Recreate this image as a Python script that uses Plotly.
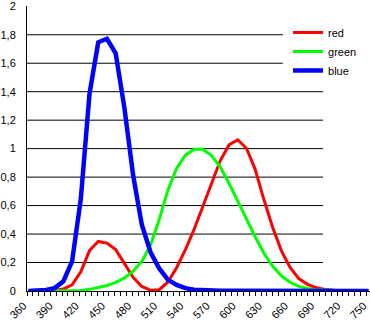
import plotly.graph_objects as go

wavelengths = list(range(360, 760, 10))

red = [0.0001, 0.0004, 0.0014, 0.0042, 0.0143, 0.0435, 0.1344, 0.2839, 0.3483, 0.3362,
       0.2908, 0.1954, 0.0956, 0.0320, 0.0049, 0.0093, 0.0633, 0.1655, 0.2904, 0.4334,
       0.5945, 0.7621, 0.9163, 1.0263, 1.0622, 1.0026, 0.8544, 0.6424, 0.4479, 0.2835,
       0.1649, 0.0874, 0.0468, 0.0227, 0.0114, 0.0058, 0.0029, 0.0014, 0.0007, 0.0003]

green = [0.0000, 0.0000, 0.0000, 0.0001, 0.0004, 0.0012, 0.0040, 0.0116, 0.0230, 0.0380,
         0.0600, 0.0910, 0.1390, 0.2080, 0.3230, 0.5030, 0.7100, 0.8620, 0.9540, 0.9950,
         0.9950, 0.9520, 0.8700, 0.7570, 0.6310, 0.5030, 0.3810, 0.2650, 0.1750, 0.1070,
         0.0610, 0.0320, 0.0170, 0.0082, 0.0041, 0.0021, 0.0010, 0.0005, 0.0002, 0.0001]

blue = [0.0006, 0.0019, 0.0065, 0.0201, 0.0679, 0.2074, 0.6456, 1.3856, 1.7471, 1.7721,
        1.6692, 1.2876, 0.8130, 0.4652, 0.2720, 0.1582, 0.0783, 0.0422, 0.0203, 0.0088,
        0.0039, 0.0021, 0.0017, 0.0011, 0.0008, 0.0003, 0.0002, 0.0000, 0.0000, 0.0000,
        0.0000, 0.0000, 0.0000, 0.0000, 0.0000, 0.0000, 0.0000, 0.0000, 0.0000, 0.0000]

series_names = ["red", "green", "blue"]
x_tick_values = list(range(360, 760, 30))
y_tick_values = [0, 0.2, 0.4, 0.6, 0.8, 1.0, 1.2, 1.4, 1.6, 1.8, 2.0]
grid_values = [0.2, 0.4, 0.6, 0.8, 1.0, 1.2, 1.4, 1.6, 1.8]

FONT = "Liberation Sans, Arial, sans-serif"

fig = go.Figure()
fig.add_trace(go.Scatter(x=wavelengths, y=red, name=series_names[0], mode="lines",
                         line=dict(color="#FF0000", width=3)))
fig.add_trace(go.Scatter(x=wavelengths, y=green, name=series_names[1], mode="lines",
                         line=dict(color="#00FF00", width=3)))
fig.add_trace(go.Scatter(x=wavelengths, y=blue, name=series_names[2], mode="lines",
                         line=dict(color="#0000FF", width=4.5)))

# horizontal gridlines (shorter ones next to the legend)
for v in grid_values:
    fig.add_shape(type="line", xref="paper", yref="y", x0=0,
                  x1=0.746 if v > 1.5 else 0.863, y0=v, y1=v,
                  line=dict(color="black", width=1), layer="below")

fig.update_layout(
    width=370, height=327,
    margin=dict(l=27, r=0, t=6, b=35.5),
    paper_bgcolor="white", plot_bgcolor="white",
    separators=", ",
    font=dict(family=FONT, size=11, color="black"),
    showlegend=True,
    legend=dict(x=0.761, y=0.958, xanchor="left", yanchor="top",
                bgcolor="rgba(0,0,0,0)", borderwidth=0,
                font=dict(family=FONT, size=11, color="black")),
    xaxis=dict(range=[358.3, 751.7], tickmode="array", tickvals=x_tick_values,
               tickangle=-45, ticks="", showgrid=False, zeroline=False,
               showline=True, linecolor="black", linewidth=1,
               layer="below traces", ticklabelshift=-5, ticklabelstandoff=3,
               tickfont=dict(family=FONT, size=11, color="black"),
               minor=dict(ticks="outside", ticklen=4, tickcolor="black",
                          tickwidth=1, tick0=358.3, dtick=6.71, showgrid=False)),
    yaxis=dict(range=[0, 2.002], tickmode="array", tickvals=y_tick_values,
               tickformat=".1~f", ticks="", showgrid=False, zeroline=False,
               showline=True, linecolor="black", linewidth=1,
               layer="below traces", ticklabelstandoff=8,
               tickfont=dict(family=FONT, size=11, color="black")),
)

fig.write_html("out.html")
